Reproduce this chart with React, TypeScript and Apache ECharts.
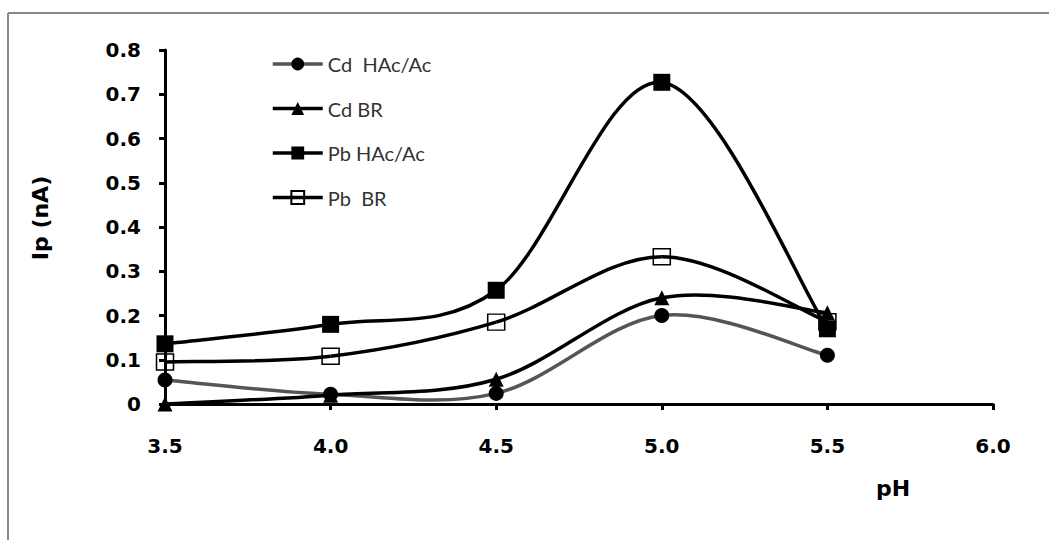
import React, { useEffect, useRef } from "react";
import * as echarts from "echarts";

const phValues = [3.5, 4.0, 4.5, 5.0, 5.5];
const cdHAc = [0.054, 0.022, 0.024, 0.2, 0.11];
const cdBR = [0.0, 0.02, 0.056, 0.24, 0.206];
const pbHAc = [0.136, 0.18, 0.257, 0.727, 0.17];
const pbBR = [0.095, 0.108, 0.185, 0.333, 0.186];
const seriesNames = ["Cd  HAc/Ac", "Cd BR", "Pb HAc/Ac", "Pb  BR"];
const lineColors = ["#555", "#000", "#000", "#000"];

const pairs = (ys: number[]) => phValues.map((x, i) => [x, ys[i]]);

// Excel-like smoothed curve: cubic Bezier segments through the data points,
// positioned through the chart's own coordinate system (api.coord).
function smoothCurve(ys: number[], color: string, z: number) {
  const data = pairs(ys);
  return {
    type: "custom",
    name: "curve-" + z,
    z,
    silent: true,
    data,
    renderItem: (params: any, api: any) => {
      const i = params.dataIndex;
      if (i >= data.length - 1) return null;
      const pts = data.map((d) => api.coord(d));
      const p0 = pts[Math.max(i - 1, 0)];
      const p1 = pts[i];
      const p2 = pts[i + 1];
      const p3 = pts[Math.min(i + 2, pts.length - 1)];
      return {
        type: "bezierCurve",
        shape: {
          x1: p1[0],
          y1: p1[1],
          x2: p2[0],
          y2: p2[1],
          cpx1: p1[0] + (p2[0] - p0[0]) / 6,
          cpy1: p1[1] + (p2[1] - p0[1]) / 6,
          cpx2: p2[0] - (p3[0] - p1[0]) / 6,
          cpy2: p2[1] - (p3[1] - p1[1]) / 6,
        },
        style: { stroke: color, lineWidth: 3.5, fill: "none" },
      };
    },
  };
}

export default function App() {
  const ref = useRef<HTMLDivElement>(null);
  useEffect(() => {
    const chart = echarts.init(ref.current!, undefined, { renderer: "svg" });
    const axisFont = { fontFamily: "DejaVu Sans", fontWeight: "bold" as const, fontSize: 20, color: "#000" };
    const hiddenLine = (c: string) => ({ color: c, width: 3.5, opacity: 0 });
    chart.setOption({
      animation: false,
      backgroundColor: "#fff",
      grid: { left: 165, right: 56, top: 50, bottom: 136, containLabel: false },
      legend: {
        orient: "vertical",
        left: 266,
        top: 49,
        itemGap: 24.5,
        itemWidth: 50,
        itemHeight: 16,
        textStyle: { fontFamily: "Lato", fontSize: 20, color: "#333" },
        data: seriesNames.map((n, i) => ({
          name: n,
          lineStyle: { color: lineColors[i], width: 3.5, opacity: 1 },
        })),
      },
      xAxis: {
        type: "value",
        min: 3.5,
        max: 6.0,
        interval: 0.5,
        axisLine: { show: true, lineStyle: { color: "#000", width: 3 } },
        axisTick: { show: true, inside: false, length: 6, lineStyle: { color: "#000", width: 3 } },
        axisLabel: { ...axisFont, margin: 32, formatter: (v: number) => v.toFixed(1) },
        splitLine: { show: false },
      },
      yAxis: {
        type: "value",
        min: 0,
        max: 0.8,
        interval: 0.1,
        axisLine: { show: true, lineStyle: { color: "#000", width: 3 } },
        axisTick: { show: true, inside: false, length: 6, lineStyle: { color: "#000", width: 3 } },
        axisLabel: { ...axisFont, margin: 24, formatter: (v: number) => (v === 0 ? "0" : v.toFixed(1)) },
        splitLine: { show: false },
      },
      graphic: [
        { type: "line", shape: { x1: 8, y1: 13, x2: 1049, y2: 13 }, style: { stroke: "#888", lineWidth: 2 } },
        { type: "line", shape: { x1: 8, y1: 13, x2: 8, y2: 540 }, style: { stroke: "#888", lineWidth: 2 } },
        {
          type: "text",
          x: 40,
          y: 218,
          rotation: Math.PI / 2,
          style: { text: "Ip (nA)", font: "bold 22px 'DejaVu Sans'", fill: "#000", align: "center", verticalAlign: "middle" },
        },
        {
          type: "text",
          x: 893,
          y: 488,
          style: { text: "pH", font: "bold 22px 'DejaVu Sans'", fill: "#000", align: "center", verticalAlign: "middle" },
        },
      ],
      series: [
        smoothCurve(cdHAc, lineColors[0], 1),
        smoothCurve(cdBR, lineColors[1], 1),
        smoothCurve(pbHAc, lineColors[2], 1),
        smoothCurve(pbBR, lineColors[3], 1),
        {
          name: seriesNames[0],
          type: "line",
          data: pairs(cdHAc),
          symbol: "circle",
          symbolSize: 15,
          itemStyle: { color: "#000" },
          lineStyle: hiddenLine(lineColors[0]),
          z: 3,
        },
        {
          name: seriesNames[1],
          type: "line",
          data: pairs(cdBR),
          symbol: "triangle",
          symbolSize: 15,
          itemStyle: { color: "#000" },
          lineStyle: hiddenLine(lineColors[1]),
          z: 4,
        },
        {
          name: seriesNames[3],
          type: "line",
          data: pairs(pbBR),
          symbol: "rect",
          symbolSize: [17, 16],
          itemStyle: { color: "transparent", borderColor: "#000", borderWidth: 1.5 },
          lineStyle: hiddenLine(lineColors[3]),
          z: 5,
        },
        {
          name: seriesNames[2],
          type: "line",
          data: pairs(pbHAc),
          symbol: "rect",
          symbolSize: 17,
          itemStyle: { color: "#000" },
          lineStyle: hiddenLine(lineColors[2]),
          z: 6,
        },
      ],
    });
    return () => chart.dispose();
  }, []);
  return <div ref={ref} style={{ position: "fixed", left: 0, top: 0, width: 1049, height: 540 }} />;
}
